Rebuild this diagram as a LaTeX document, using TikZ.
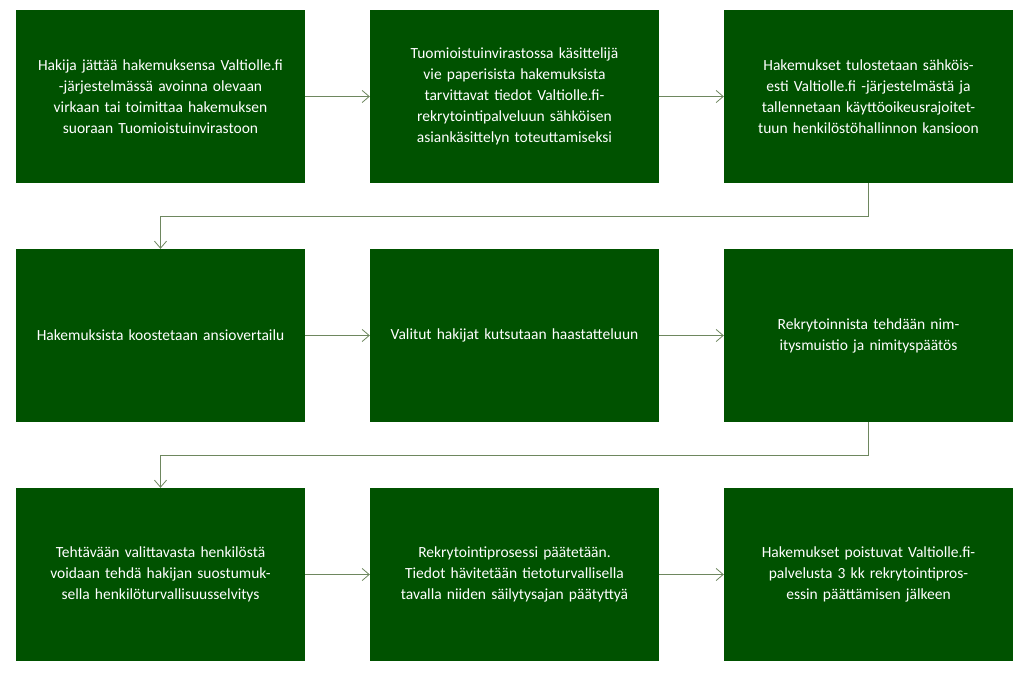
\documentclass[tikz,border=0pt]{standalone}
\usepackage{fontspec}
\setmainfont{Carlito}
\usetikzlibrary{arrows.meta,positioning}
\definecolor{boxgreen}{RGB}{0,82,0}
\definecolor{linkgreen}{RGB}{110,135,95}

\begin{document}
\begin{tikzpicture}[x=1pt, y=-1pt,
    stepbox/.style={rectangle, fill=boxgreen, text=white, minimum width=289pt, minimum height=173pt, text width=252pt, align=center, font=\fontsize{15.5}{21}\selectfont, inner sep=0pt},
    link/.style={-{Straight Barb[length=7pt,width=12pt]}, linkgreen, line width=0.8pt}]
    \useasboundingbox (0,0) rectangle (1024,677);

    % row 1
    \node[stepbox] (apply) at (160.5,96.5) {Hakija jättää hakemuksensa Valtiolle.fi -järjestelmässä avoinna olevaan virkaan tai toimittaa hakemuksen suoraan Tuomioistuinvirastoon};
    \node[stepbox] (enter) at (514.5,96.5) {Tuomioistuinvirastossa käsittelijä vie paperisista hakemuksista tarvittavat tiedot Valtiolle.fi-rekrytointipalveluun sähköisen asiankäsittelyn toteuttamiseksi};
    \node[stepbox] (print) at (868.5,96.5) {Hakemukset tulostetaan sähköisesti Valtiolle.fi -järjestelmästä ja tallennetaan käyttöoikeusrajoitettuun henkilöstöhallinnon kansioon};
    % row 2
    \node[stepbox] (compare) at (160.5,335.5) {Hakemuksista koostetaan ansiovertailu};
    \node[stepbox] (invite) at (514.5,335.5) {Valitut hakijat kutsutaan haastatteluun};
    \node[stepbox] (decide) at (868.5,335.5) {Rekrytoinnista tehdään nimitysmuistio ja nimityspäätös};
    % row 3
    \node[stepbox] (check) at (160.5,574.5) {Tehtävään valittavasta henkilöstä voidaan tehdä hakijan suostumuksella henkilöturvallisuusselvitys};
    \node[stepbox] (close) at (514.5,574.5) {Rekrytointiprosessi päätetään. Tiedot hävitetään tietoturvallisella tavalla niiden säilytysajan päätyttyä};
    \node[stepbox] (remove) at (868.5,574.5) {Hakemukset poistuvat Valtiolle.fi-palvelusta 3 kk rekrytointiprosessin päättämisen jälkeen};

    \draw[link] (apply) -- (enter);
    \draw[link] (enter) -- (print);
    \draw[link] (print.south) -- ++(0,33) -| (compare.north);
    \draw[link] (compare) -- (invite);
    \draw[link] (invite) -- (decide);
    \draw[link] (decide.south) -- ++(0,33) -| (check.north);
    \draw[link] (check) -- (close);
    \draw[link] (close) -- (remove);
\end{tikzpicture}
\end{document}
